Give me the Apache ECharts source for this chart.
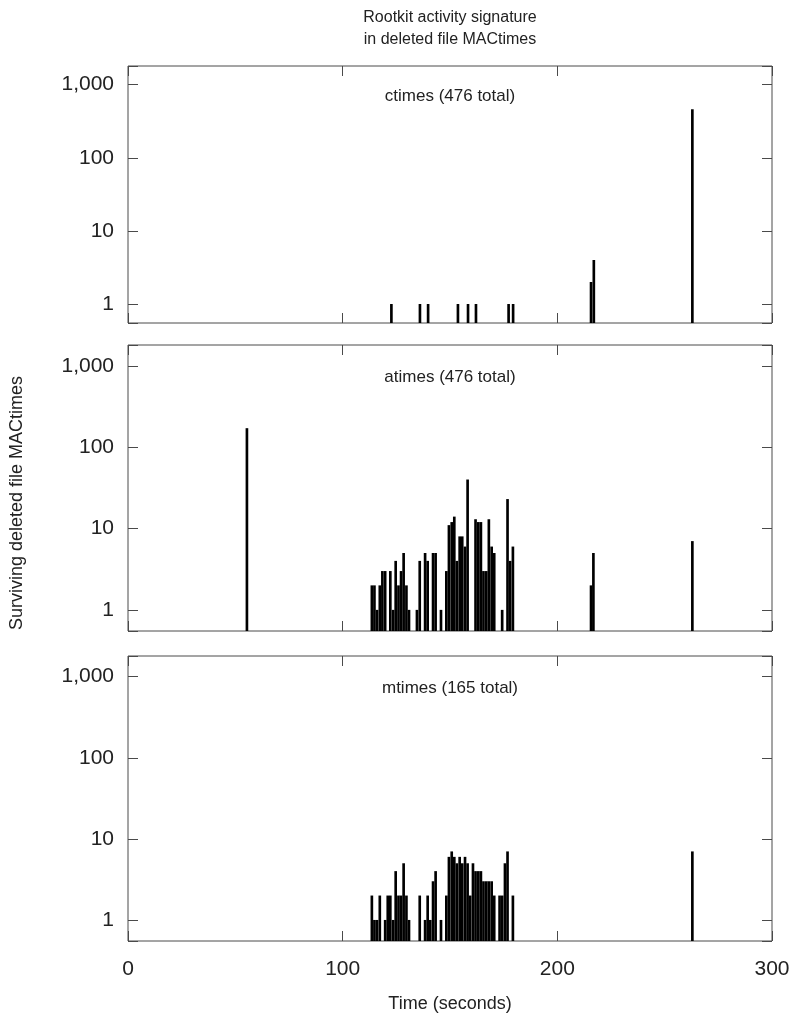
<!DOCTYPE html>
<html><head><meta charset="utf-8">
<script src="https://cdn.jsdelivr.net/npm/echarts@6/dist/echarts.min.js"></script>
<style>html,body{margin:0;padding:0;background:#fff}#c{width:805px;height:1019px}</style>
</head><body><div id="c"></div>
<script>
// ---- data ----
const chartTitle = 'Rootkit activity signature\nin deleted file MACtimes';
const panelLabels = ['ctimes (476 total)', 'atimes (476 total)', 'mtimes (165 total)'];
const xAxisName = 'Time (seconds)';
const yAxisName = 'Surviving deleted file MACtimes';
const xTicks = [0, 100, 200, 300];
const yTicks = [1, 10, 100, 1000];

// ctimes: bin centre time (s) and count
const ctimeT = [122.7, 136.0, 139.8, 153.7, 158.4, 162.1, 177.3, 179.4, 215.7, 217.0, 262.9];
const ctimeN = [1, 1, 1, 1, 1, 1, 1, 1, 2, 4, 461];

// atimes
const atimeT = [55.4,
  113.6, 114.8, 116.0, 117.3, 118.5, 119.8, 122.2, 123.5, 124.7, 126.0, 127.2, 128.4, 129.7, 130.9,
  134.6, 135.9, 138.4, 139.6, 142.1, 143.3, 145.8, 148.3, 149.5, 150.8, 152.0, 153.2, 154.5, 155.7,
  157.0, 158.2, 161.9, 163.2, 164.4, 165.6, 166.9, 168.1, 169.4, 170.6, 174.3, 176.8, 178.0, 179.3,
  215.7, 216.8, 262.9];
const atimeN = [171,
  2, 2, 1, 2, 3, 3, 3, 1, 4, 2, 3, 5, 2, 1,
  1, 4, 5, 4, 5, 5, 1, 3, 11, 12, 14, 4, 8, 8,
  6, 40, 13, 12, 12, 3, 3, 13, 6, 5, 1, 23, 4, 6,
  2, 5, 7];

// mtimes
const mtimeT = [
  113.6, 114.8, 116.0, 117.3, 119.8, 121.0, 122.2, 123.5, 124.7, 126.0, 127.2, 128.4, 129.7, 130.9,
  135.9, 138.4, 139.6, 140.8, 142.1, 143.3, 145.8, 148.3, 149.5, 150.8, 152.0, 153.2, 154.5, 155.7,
  157.0, 158.2, 159.4, 160.7, 161.9, 163.2, 164.4, 165.6, 166.9, 168.1, 169.4, 170.6, 173.1, 174.3,
  175.6, 176.8, 179.3, 262.9];
const mtimeN = [
  2, 1, 1, 2, 1, 2, 2, 1, 4, 2, 2, 5, 2, 1,
  2, 1, 2, 1, 3, 4, 1, 2, 6, 7, 6, 5, 6, 5,
  6, 5, 2, 5, 4, 4, 4, 3, 3, 3, 3, 2, 2, 2,
  5, 7, 2, 7];

// ---- layout / style ----
const BIN_WIDTH = 1.24;     // seconds per bar
const Y_MIN = 0.55, Y_MAX = 1800;
const FRAME = '#4a4a4a';
const TXT = '#222';
const FONT = '"Liberation Sans", Arial, Helvetica, sans-serif';
const grids = [
  { left: 128, top: 66, width: 644, height: 257 },
  { left: 128, top: 345, width: 644, height: 286 },
  { left: 128, top: 656, width: 644, height: 285 }
];
const series = [[ctimeT, ctimeN], [atimeT, atimeN], [mtimeT, mtimeN]];

function yFmt(v) {
  const r = Math.round(v);
  if (Math.abs(v - r) < 1e-6 && yTicks.indexOf(r) >= 0) return r.toLocaleString('en-US');
  return '';
}
function xFmt(v) { return xTicks.indexOf(v) >= 0 ? String(v) : ''; }
function tickOpt() {
  return { show: true, inside: true, length: 10, lineStyle: { color: FRAME, width: 1 } };
}

const xAxes = [], yAxes = [], ser = [];
grids.forEach((g, i) => {
  xAxes.push({
    gridIndex: i, type: 'value', min: xTicks[0], max: xTicks[xTicks.length - 1], interval: 100,
    position: 'bottom', axisLine: { show: false }, axisTick: tickOpt(), splitLine: { show: false },
    axisLabel: { show: i === 2, formatter: xFmt, fontSize: 21, color: TXT, fontFamily: FONT, margin: 18 },
    name: i === 2 ? xAxisName : '', nameLocation: 'middle', nameGap: 54,
    nameTextStyle: { fontSize: 18, color: TXT, fontFamily: FONT }
  });
  xAxes.push({
    gridIndex: i, type: 'value', min: xTicks[0], max: xTicks[xTicks.length - 1], interval: 100,
    position: 'top', axisLine: { show: false }, axisTick: tickOpt(), splitLine: { show: false },
    axisLabel: { show: false }
  });
  // labelled left axis (its ticks are drawn by the unlabelled twin below)
  yAxes.push({
    gridIndex: i, type: 'log', logBase: 10, min: Y_MIN, max: Y_MAX, position: 'left',
    axisLine: { show: false }, axisTick: { show: false }, splitLine: { show: false },
    axisLabel: { formatter: yFmt, fontSize: 21, color: TXT, fontFamily: FONT, margin: 14 }
  });
  yAxes.push({
    gridIndex: i, type: 'log', logBase: 10, min: Y_MIN, max: Y_MAX, position: 'left',
    axisLine: { show: false }, axisTick: tickOpt(), splitLine: { show: false },
    axisLabel: { show: false }
  });
  yAxes.push({
    gridIndex: i, type: 'log', logBase: 10, min: Y_MIN, max: Y_MAX, position: 'right',
    axisLine: { show: false }, axisTick: tickOpt(), splitLine: { show: false },
    axisLabel: { show: false }
  });
  const [T, N] = series[i];
  ser.push({
    type: 'custom', xAxisIndex: i * 2, yAxisIndex: i * 3, clip: true,
    data: T.map((t, k) => [t, N[k]]),
    renderItem: function (params, api) {
      const t = api.value(0), n = api.value(1);
      const p0 = api.coord([t - BIN_WIDTH / 2, n]);
      const p1 = api.coord([t + BIN_WIDTH / 2, Y_MIN]);
      return { type: 'rect', shape: { x: p0[0], y: p0[1], width: p1[0] - p0[0], height: p1[1] - p0[1] },
        style: { fill: '#000' } };
    }
  });
});

const graphics = [{
  type: 'text', x: 450, y: 29, style: { text: chartTitle, align: 'center', verticalAlign: 'middle',
    fontSize: 16, lineHeight: 22, fontFamily: FONT, fill: TXT }
}, {
  type: 'text', x: 17, y: 503, rotation: Math.PI / 2,
  style: { text: yAxisName, align: 'center', verticalAlign: 'middle', fontSize: 18, fontFamily: FONT, fill: TXT }
}];
const labelY = [96, 377, 688];
panelLabels.forEach((t, i) => graphics.push({
  type: 'text', x: 450, y: labelY[i], style: { text: t, align: 'center', verticalAlign: 'middle',
    fontSize: 17, fontFamily: FONT, fill: TXT }
}));

const chart = echarts.init(document.getElementById('c'), null, { renderer: 'canvas' });
chart.setOption({
  animation: false,
  backgroundColor: '#fff',
  grid: grids.map(g => Object.assign({ show: true, borderColor: FRAME, borderWidth: 1, backgroundColor: 'transparent', containLabel: false }, g)),
  xAxis: xAxes,
  yAxis: yAxes,
  series: ser,
  graphic: graphics
});
</script></body></html>
